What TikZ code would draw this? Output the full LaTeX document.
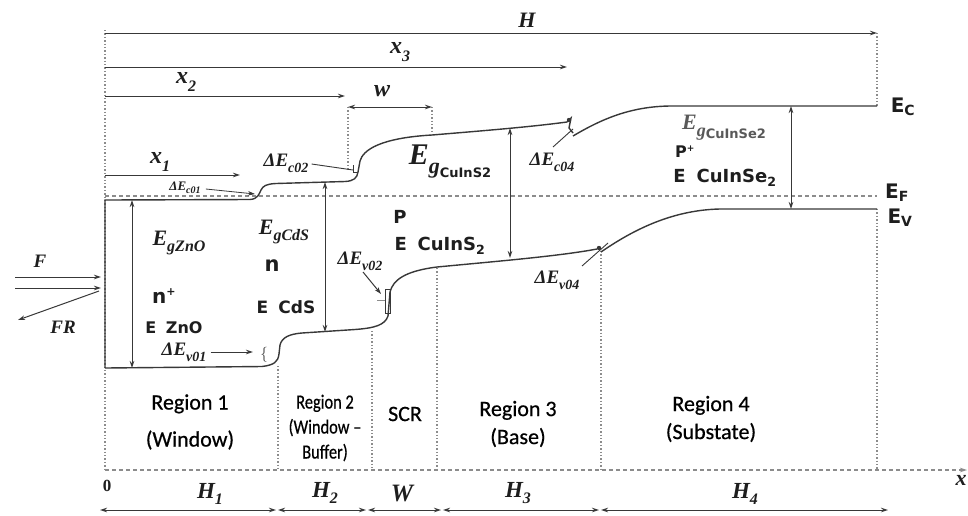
\documentclass[tikz,border=0pt]{standalone}
\usepackage{fontspec}
\setsansfont{Carlito}
\newfontfamily\rfont{Carlito}[FakeBold=0.6,Ligatures=TeX]
\newfontfamily\dvs{DejaVu Sans}
\newfontfamily\sbi{Liberation Serif}
\usetikzlibrary{arrows.meta}
\definecolor{lc}{HTML}{383838}
\definecolor{dc}{HTML}{8C8C8C}
\definecolor{tc}{HTML}{1E1E1E}
% lowered subscript of a given size
\newcommand\dn[3]{\raisebox{-#1}{\fontsize{#2}{#2}\selectfont #3}}
\begin{document}
\begin{tikzpicture}[x=1pt,y=-1pt,
  band/.style={draw=lc, line width=1.4pt},
  arr/.style={draw=lc, line width=1pt, -{Stealth[length=7pt,width=4.5pt]}},
  dbl/.style={draw=lc, line width=1pt, {Stealth[length=7pt,width=4.5pt]}-{Stealth[length=7pt,width=4.5pt]}},
  dotv/.style={draw=dc, line width=1.4pt, dotted},
  dashh/.style={draw=dc, line width=1.1pt, dash pattern=on 4pt off 3pt},
  ptr/.style={draw=lc, line width=0.9pt},
  ml/.style={font=\sbi\bfseries\itshape\fontsize{22}{24}\selectfont, text=tc, inner sep=0pt},
  dl/.style={font=\sbi\bfseries\itshape\fontsize{19}{21}\selectfont, text=tc, inner sep=0pt},
  hl/.style={font=\sbi\bfseries\itshape\fontsize{23}{25}\selectfont, text=tc, inner sep=0pt},
  rl/.style={font=\rfont\fontsize{22}{28}\selectfont, text=black, align=center, inner sep=0pt},
  sl/.style={font=\dvs\bfseries\fontsize{18}{20}\selectfont, text=tc, inner sep=0pt}
]
\useasboundingbox[fill=white] (0,0) rectangle (968,515);

% ---------- coordinates ----------
\coordinate (O) at (105,470);
\coordinate (Top) at (105,30);
\coordinate (Hs) at (105,33);   \coordinate (He) at (877,33);
\coordinate (x3s) at (105,67);  \coordinate (x3e) at (567,67);
\coordinate (x2s) at (105,96);  \coordinate (x2e) at (345,96);
\coordinate (ws) at (348,107);  \coordinate (we) at (432,107);
\coordinate (wsb) at (348,170); \coordinate (web) at (432,134);
\coordinate (x1s) at (105,175); \coordinate (x1e) at (240,175);
\coordinate (EcR) at (877,106);
\coordinate (EvR) at (877,209);
\coordinate (EFs) at (105,196); \coordinate (EFe) at (877,196);
\coordinate (Xe) at (967,470);

% ---------- dotted verticals ----------
\draw[dotv] (Top) -- (O);
\draw[dotv] (He) -- (EcR);
\draw[dotv] (EvR) -- (877,470);
\draw[dotv] (ws) -- (wsb);
\draw[dotv] (we) -- (web);
\draw[dotv] (278,366) -- (278,470);
\draw[dotv] (372,331) -- (372,470);
\draw[dotv] (437,268) -- (437,470);
\draw[dotv] (601,251) -- (601,470);

% ---------- horizontal dashed ----------
\draw[dashh] (EFs) -- (EFe);
\draw[dashh, -{Stealth[length=7pt,width=4.5pt]}] (O) -- (Xe);

% ---------- top dimension arrows ----------
\draw[arr] (Hs) -- (He);
\draw[arr] (x3s) -- (x3e);
\draw[arr] (x2s) -- (x2e);
\draw[dbl] (ws) -- (we);
\draw[arr] (x1s) -- (x1e);

% ---------- band edges ----------
\draw[band] (105,368) -- (105,200) -- (250,199.5)
  .. controls (258,199) and (259,194) .. (261,190)
  .. controls (263,186) and (266,184) .. (276,183.5)
  -- (345,181.5)
  .. controls (354,181) and (357,178) .. (358,172)
  -- (360,161)
  .. controls (363,150) and (380,138) .. (432,135)
  .. controls (480,131) and (530,127) .. (567,122);
\draw[band] (567,122) -- (571,118) -- (569,128) -- (573,133);
\draw[band] (573,136) .. controls (600,120) and (630,106) .. (672,106) -- (EcR);
\draw[band] (105,368) -- (262,366.5)
  .. controls (274,365) and (278,362) .. (279,354)
  -- (280,345)
  .. controls (282,337) and (290,334) .. (302,333)
  -- (355,329.5)
  .. controls (375,328) and (385,325) .. (388,316)
  -- (390,292)
  .. controls (393,280) and (405,271) .. (437,267)
  .. controls (500,261) and (560,256) .. (597,249);
\fill[lc] (599,248) circle (2.2pt);
\fill[lc] (569,120) circle (2.2pt);
\draw[band] (601,252) .. controls (630,232) and (670,210) .. (720,209) -- (EvR);

% ---------- band gap arrows ----------
\draw[dbl] (132,200) -- (132,368);
\draw[dbl] (325,182) -- (325,332);
\draw[dbl] (510,128) -- (510,258);
\draw[dbl] (791,106) -- (791,209);

% ---------- small markers ----------
\draw[draw=lc, line width=0.7pt] (385,289) rectangle (390,313);
\draw[draw=dc, line width=0.6pt] (377,300) -- (385,300);
\draw[draw=lc, line width=0.8pt] (353,165) -- (353,172) -- (358,172);

% ---------- F, FR ----------
\draw[arr] (15,277) -- (101,277);
\draw[arr] (15,288) -- (101,288);
\draw[arr] (99,291) -- (18,320);
\node[ml, font=\sbi\bfseries\itshape\fontsize{19}{21}\selectfont] (Fl) at (40,261) {F};
\node[ml, font=\sbi\bfseries\itshape\fontsize{19}{21}\selectfont] (FRl) at (63,327) {FR};

% ---------- labels top ----------
\node[ml] (Hl) at (527,20) {H};
\node[ml, font=\sbi\bfseries\itshape\fontsize{24}{26}\selectfont] (x3l) at (400,52) {x\dn{0.3em}{16}{3}};
\node[ml, font=\sbi\bfseries\itshape\fontsize{24}{26}\selectfont] (x2l) at (186,82) {x\dn{0.3em}{16}{2}};
\node[ml, font=\sbi\bfseries\itshape\fontsize{24}{26}\selectfont] (wl) at (382,91) {w};
\node[ml, font=\sbi\bfseries\itshape\fontsize{24}{26}\selectfont] (x1l) at (160,162) {x\dn{0.3em}{16}{1}};

% ---------- delta labels ----------
\node[dl, font=\sbi\bfseries\itshape\fontsize{13}{15}\selectfont] (dEc01) at (185,188) {ΔE\dn{0.25em}{10}{c01}};
\coordinate (dEc01t) at (255,194);
\draw[arr, line width=0.8pt] (dEc01.east) ++(5,1) -- (dEc01t);
\node[dl] (dEc02) at (286,163) {ΔE\dn{0.3em}{14}{c02}};
\coordinate (dEc02t) at (353,170);
\draw[ptr] (dEc02.east) ++(3,1) -- (dEc02t);
\node[dl] (dEc04) at (552,162) {ΔE\dn{0.3em}{14}{c04}};
\draw[ptr] (553,147) -- (573,129);
\node[dl] (dEv01) at (184,352) {ΔE\dn{0.3em}{14}{v01}};
\coordinate (dEv01t) at (253,352);
\draw[arr] (dEv01.east) ++(4,0) -- (dEv01t);
\node[font=\fontsize{15}{17}\selectfont, text=lc, inner sep=0pt] (brace) at (264,355) {\{};
\node[dl] (dEv02) at (360,261) {ΔE\dn{0.3em}{14}{v02}};
\coordinate (dEv02t) at (381,294);
\draw[arr] (363,272) -- (dEv02t);
\node[dl] (dEv04) at (557,280) {ΔE\dn{0.3em}{14}{v04}};
\draw[ptr] (582,266) -- (608,243);

% ---------- gap labels ----------
\node[ml] (EgZnO) at (179,243) {E\dn{0.3em}{16}{gZnO}};
\node[ml] (EgCdS) at (284,232) {E\dn{0.3em}{16}{gCdS}};
\node[ml, font=\sbi\bfseries\itshape\fontsize{30}{32}\selectfont] (EgCuInS2) at (450,162) {E\dn{0.3em}{22}{g\dn{0.15em}{13}{\dvs\bfseries\upshape CuInS2}}};
\node[ml, text=black!65] (EgCuInSe2) at (724,128) {E\dn{0.3em}{18}{g\dn{0.1em}{13}{\dvs\bfseries\upshape CuInSe2}}};

% ---------- material labels ----------
\node[sl, font=\dvs\bfseries\fontsize{21}{22}\selectfont] (nl) at (272,266) {n};
\node[sl, font=\dvs\bfseries\fontsize{20}{22}\selectfont] (npl) at (164,296) {n\textsuperscript{\fontsize{11}{11}\selectfont+}};
\node[sl, font=\dvs\bfseries\fontsize{16}{18}\selectfont] (EZnO) at (174,328) {E\hspace{0.6em}ZnO};
\node[sl, font=\dvs\bfseries\fontsize{17}{19}\selectfont] (ECdS) at (286,307) {E\hspace{0.6em}CdS};
\node[sl] (Pl) at (400,217) {P};
\node[sl] (ECuInS2) at (440,246) {E\hspace{0.6em}CuInS\textsubscript{2}};
\node[sl, font=\dvs\bfseries\fontsize{16}{18}\selectfont] (Ppl) at (685,152) {P\textsuperscript{\fontsize{9}{9}\selectfont+}};
\node[sl] (ECuInSe2) at (725,178) {E\hspace{0.6em}CuInSe\textsubscript{2}};
\node[sl, font=\dvs\bfseries\fontsize{20}{22}\selectfont] (Ecl) at (903,107) {E\textsubscript{C}};
\node[sl, font=\dvs\bfseries\fontsize{20}{22}\selectfont] (Efl) at (897,193) {E\textsubscript{F}};
\node[sl, font=\dvs\bfseries\fontsize{20}{22}\selectfont] (Evl) at (900,218) {E\textsubscript{V}};

% ---------- region labels ----------
\node[rl] (R1) at (190,422) {Region 1\\[9pt](Window)};
\node[rl, xscale=0.82, transform shape, font=\rfont\fontsize{20}{25}\selectfont] (R2) at (325,428) {Region 2\\(Window –\\Buffer)};
\node[rl] (SCR) at (405,414) {SCR};
\node[rl] (R3) at (518,424) {Region 3\\(Base)};
\node[rl] (R4) at (711,419) {Region 4\\(Substate)};

% ---------- bottom ----------
\node[font=\sbi\bfseries\fontsize{17}{19}\selectfont, text=tc, inner sep=0pt] (zero) at (107,486) {0};
\node[ml] (xl) at (961,480) {x};
\coordinate (b0) at (100,510); \coordinate (b1) at (276,510);
\coordinate (b1r) at (278,510); \coordinate (b2) at (366,510);
\coordinate (b2r) at (368,510); \coordinate (b3) at (441,510);
\coordinate (b3r) at (443,510); \coordinate (b4) at (599,510);
\coordinate (b4r) at (601,510); \coordinate (b5) at (888,510);
\draw[dbl] (b0) -- (b1);
\draw[dbl] (b1r) -- (b2);
\draw[dbl] (b2r) -- (b3);
\draw[dbl] (b3r) -- (b4);
\draw[dbl] (b4r) -- (b5);
\node[hl] (H1) at (210,494) {H\dn{0.3em}{16}{1}};
\node[hl] (H2) at (325,493) {H\dn{0.3em}{16}{2}};
\node[hl, font=\sbi\bfseries\itshape\fontsize{25}{27}\selectfont] (Wl) at (402,493) {W};
\node[hl] (H3) at (518,493) {H\dn{0.3em}{16}{3}};
\node[hl] (H4) at (745,494) {H\dn{0.3em}{16}{4}};
\end{tikzpicture}
\end{document}
